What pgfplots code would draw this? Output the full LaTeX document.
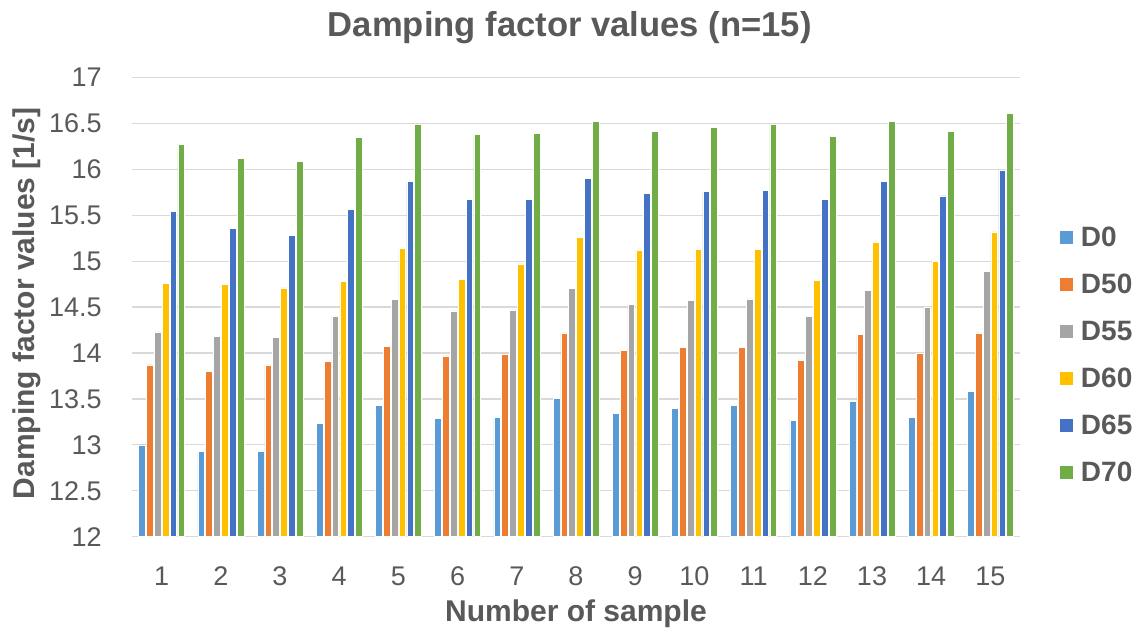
\documentclass[border=0pt]{standalone}
\usepackage{pgfplots}
\pgfplotsset{compat=1.18}
\usepackage{pgfplotstable}
\usepackage{fontspec}
\setmainfont{Liberation Sans}
\definecolor{txt}{HTML}{595959}
\definecolor{gridc}{HTML}{D9D9D9}
\definecolor{cA}{HTML}{5B9BD5}
\definecolor{cB}{HTML}{ED7D31}
\definecolor{cC}{HTML}{A5A5A5}
\definecolor{cD}{HTML}{FFC000}
\definecolor{cE}{HTML}{4472C4}
\definecolor{cF}{HTML}{70AD47}
\pgfplotstableread{
x D0 D50 D55 D60 D65 D70
1 13.00 13.87 14.23 14.76 15.54 16.27
2 12.93 13.80 14.18 14.75 15.36 16.12
3 12.93 13.87 14.17 14.71 15.28 16.09
4 13.23 13.91 14.40 14.78 15.56 16.35
5 13.43 14.07 14.58 15.14 15.87 16.49
6 13.29 13.97 14.46 14.80 15.67 16.38
7 13.30 13.99 14.47 14.97 15.67 16.39
8 13.51 14.22 14.70 15.26 15.90 16.52
9 13.34 14.03 14.53 15.12 15.74 16.41
10 13.40 14.06 14.57 15.13 15.76 16.46
11 13.43 14.06 14.59 15.13 15.77 16.49
12 13.27 13.92 14.40 14.79 15.67 16.36
13 13.47 14.20 14.68 15.21 15.87 16.52
14 13.30 14.00 14.50 15.00 15.71 16.41
15 13.58 14.22 14.89 15.32 15.99 16.61
}\datatable
\begin{document}
\begin{tikzpicture}
\path[use as bounding box] (0,0) rectangle (570.5pt,315pt);
\begin{axis}[
  name=ax,
  at={(66pt,46.65pt)}, anchor=south west,
  scale only axis, width=444pt, height=229.6pt,
  xmin=0.5, xmax=15.5, ymin=12, ymax=17,
  xtick={1,...,15}, ytick distance=0.5,
  ymajorgrids, grid style={gridc, line width=0.6pt},
  axis line style={draw=none},
  major tick length=0pt,
  /pgf/number format/assume math mode=true,
  ticklabel style={font=\fontsize{13.5pt}{16pt}\selectfont, text=txt},
  yticklabel style={anchor=east, inner sep=0pt, xshift=-15pt},
  xticklabel style={anchor=north, inner sep=0pt, yshift=-15pt},
  title={Damping factor values (n=15)},
  title style={at={(0.493,1)}, anchor=base, yshift=14.25pt, inner sep=0pt,
    font=\fontsize{17.3pt}{20pt}\selectfont\bfseries, text=txt},
  xlabel={Number of sample},
  xlabel style={at={(0.5,0)}, anchor=base, yshift=-42.2pt, inner sep=0pt,
    font=\fontsize{15pt}{17pt}\selectfont\bfseries, text=txt},
  ybar=0.57pt, bar width=3.35pt,
  every axis plot/.append style={draw=white, line width=0.25pt,
    legend image code/.code={\fill[##1] (0pt,-3.5pt) rectangle (7pt,3.5pt);}},
  legend style={at={(1.044,0.397)}, anchor=west, draw=none, fill=none,
    inner sep=0pt, row sep=11.5pt,
    /tikz/every odd column/.append style={column sep=2.5pt},
    font=\fontsize{14pt}{16pt}\selectfont\bfseries, text=txt,
    nodes={inner sep=1pt, text height=10pt, text depth=0pt}},
  legend cell align=left,
]
\addplot[fill=cA] table[x=x,y=D0]{\datatable};
\addplot[fill=cB] table[x=x,y=D50]{\datatable};
\addplot[fill=cC] table[x=x,y=D55]{\datatable};
\addplot[fill=cD] table[x=x,y=D60]{\datatable};
\addplot[fill=cE] table[x=x,y=D65]{\datatable};
\addplot[fill=cF] table[x=x,y=D70]{\datatable};
\legend{D0,D50,D55,D60,D65,D70}
\end{axis}
\node[rotate=90, anchor=center, inner sep=0pt, text=txt,
  font=\fontsize{15pt}{17pt}\selectfont\bfseries]
  at ([xshift=-52.5pt,yshift=1.85pt]ax.west) {Damping factor values [1/s]};
\end{tikzpicture}
\end{document}
